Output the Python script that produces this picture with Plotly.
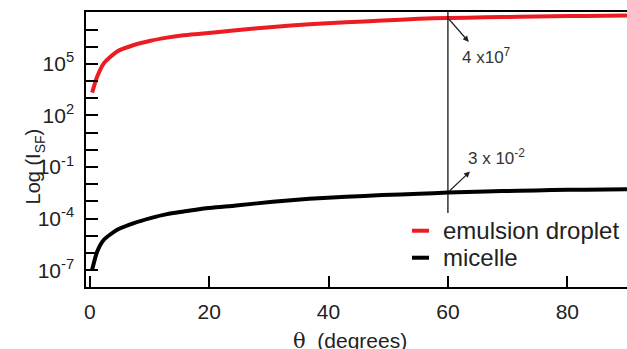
import math
import plotly.graph_objects as go

# Data
theta = [0.4, 1.25, 2.37, 4.59, 7.39, 10.18, 12.95, 15.74, 18.6, 24.5, 30.66,
         36.79, 42.92, 49.04, 55.17, 60.0, 66.3, 71.9, 77.4, 83.0, 90.0]
emulsion_droplet = [2.14e3, 1.82e4, 1.10e5, 5.25e5, 1.26e6, 2.24e6, 3.39e6, 4.68e6,
                    5.75e6, 9.12e6, 1.41e7, 2.04e7, 2.63e7, 3.31e7, 4.27e7, 4.68e7,
                    5.13e7, 5.50e7, 5.89e7, 6.17e7, 6.61e7]
micelle = [1.05e-7, 1.23e-6, 5.89e-6, 2.24e-5, 5.50e-5, 1.07e-4, 1.82e-4, 2.57e-4,
           3.63e-4, 5.75e-4, 9.55e-4, 1.41e-3, 1.86e-3, 2.34e-3, 2.75e-3, 3.31e-3,
           3.80e-3, 4.17e-3, 4.57e-3, 4.79e-3, 5.13e-3]

x_ticks = [0, 20, 40, 60, 80]
y_exponents = list(range(-8, 9))
y_labelled = [-7, -4, -1, 2, 5]
mark_theta = 60
label_red = "4 x10<sup>7</sup>"
label_black = "3 x 10<sup>-2</sup>"

RED = "#ec1c24"
FONT = "Liberation Sans, Arial, sans-serif"
TXT = "#222222"

idx = theta.index(mark_theta)
red_at = math.log10(emulsion_droplet[idx])
blk_at = math.log10(micelle[idx])

fig = go.Figure()
fig.add_trace(go.Scatter(x=theta, y=emulsion_droplet, mode="lines", name="emulsion droplet",
                         line=dict(color=RED, width=4, shape="spline", smoothing=0.6),
                         showlegend=False, hoverinfo="skip"))
fig.add_trace(go.Scatter(x=theta, y=micelle, mode="lines", name="micelle",
                         line=dict(color="black", width=4, shape="spline", smoothing=0.6),
                         showlegend=False, hoverinfo="skip"))

tickvals = [10.0 ** e for e in y_exponents]
ticktext = [f"10<sup>{e}</sup>" if e in y_labelled else " " for e in y_exponents]

fig.update_layout(
    width=627, height=349,
    margin=dict(l=86, r=0, t=12, b=62, autoexpand=False),
    paper_bgcolor="white", plot_bgcolor="white",
    font=dict(family=FONT, color=TXT, size=21),
    xaxis=dict(range=[-0.63, 90.0], tickmode="array", tickvals=x_ticks, ticks="inside",
               ticklen=11, tickwidth=2, tickcolor="black", showline=True,
               linecolor="black", linewidth=1.5, mirror=True, showgrid=False,
               zeroline=False, tickfont=dict(size=21, color=TXT),
               ticklabelstandoff=5, automargin=False),
    yaxis=dict(type="log", range=[-7.98, 8.02], tickmode="array", tickvals=tickvals,
               ticktext=ticktext, ticks="inside", ticklen=12, tickwidth=2,
               tickcolor="black", showline=True, linecolor="black", linewidth=1.5,
               mirror=False, showgrid=False, zeroline=False,
               tickfont=dict(size=21, color=TXT), ticklabelstandoff=6,
               automargin=False),
)

# vertical marker line at theta = 60
fig.add_shape(type="line", xref="x", yref="paper", x0=mark_theta, x1=mark_theta,
              y0=0.269, y1=1.0, line=dict(color="black", width=1.2))

# arrows (tail at curve intersection, head toward the label)
fig.add_annotation(x=63.5, y=6.28, ax=mark_theta, ay=red_at, axref="x", ayref="y",
                   xref="x", yref="y", text="", showarrow=True, arrowhead=2,
                   arrowsize=1, arrowwidth=1.2, arrowcolor="#222222")
fig.add_annotation(x=63.7, y=-1.26, ax=mark_theta, ay=blk_at, axref="x", ayref="y",
                   xref="x", yref="y", text="", showarrow=True, arrowhead=2,
                   arrowsize=1, arrowwidth=1.2, arrowcolor="#222222")
fig.add_annotation(x=62.0, y=5.47, xref="x", yref="y", text=label_red, showarrow=False,
                   xanchor="left", yanchor="middle", font=dict(size=17, color="#333333"))
fig.add_annotation(x=63.0, y=-0.41, xref="x", yref="y", text=label_black, showarrow=False,
                   xanchor="left", yanchor="middle", font=dict(size=17, color="#333333"))

# manual legend
for yy, col, name in [(0.2047, RED, "emulsion droplet"), (0.1065, "black", "micelle")]:
    fig.add_shape(type="line", xref="paper", yref="paper", x0=0.6026, x1=0.634,
                  y0=yy, y1=yy, line=dict(color=col, width=4))
    fig.add_annotation(x=0.6556, y=yy, xref="paper", yref="paper", text=name,
                       showarrow=False, xanchor="left", yanchor="middle",
                       font=dict(size=24, color=TXT))

# axis titles
fig.add_annotation(x=-0.122, y=0.44, xref="paper", yref="paper",
                   text="Log (I<sub>SF</sub>)", textangle=-90, showarrow=False,
                   font=dict(size=20, color=TXT))
fig.add_annotation(x=(350 - 86) / 541, y=-0.196, xref="paper", yref="paper",
                   text='<span style="font-family:DejaVu Serif, serif">θ</span>  (degrees)',
                   showarrow=False, xanchor="center", yanchor="middle",
                   font=dict(size=21, color=TXT))

fig.write_html("out.html", config={"displayModeBar": False},
               post_script="document.body.style.margin='0px';")
